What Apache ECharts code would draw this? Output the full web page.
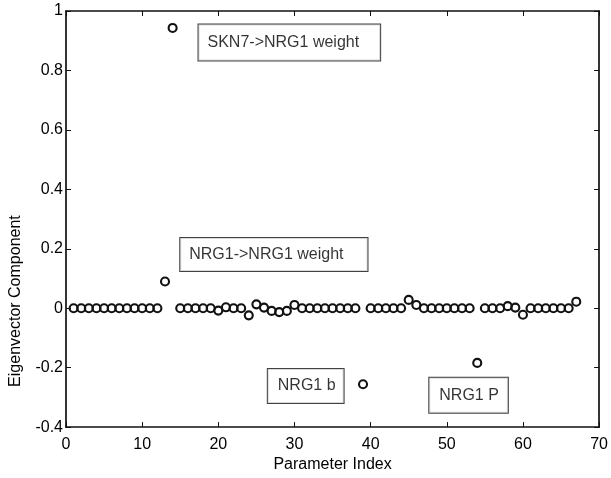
<!DOCTYPE html>
<html>
<head>
<meta charset="utf-8">
<script src="https://cdn.jsdelivr.net/npm/echarts@6/dist/echarts.min.js"></script>
<style>
html,body{margin:0;padding:0;background:#fff;}
#chart{width:611px;height:478px;}
</style>
</head>
<body>
<div id="chart"></div>
<script>
// Parameter indices 1..67
var paramIndex = [];
for (var i = 1; i <= 67; i++) paramIndex.push(i);

// Eigenvector components
var eigenValues = [
  0, 0, 0, 0, 0, 0, 0, 0, 0, 0,          // 1-10
  0, 0, 0.09, 0.943, 0, 0, 0, 0, 0, -0.008, // 11-20
  0.003, 0, 0, -0.024, 0.013, 0.002, -0.009, -0.013, -0.009, 0.011, // 21-30
  0, 0, 0, 0, 0, 0, 0, 0, -0.256, 0,       // 31-40
  0, 0, 0, 0, 0.028, 0.011, 0, 0, 0, 0,    // 41-50
  0, 0, 0, -0.184, 0, 0, 0, 0.007, 0.002, -0.022, // 51-60
  0, 0, 0, 0, 0, 0, 0.022                  // 61-67
];

var xTicks = [0, 10, 20, 30, 40, 50, 60, 70];
var yTicks = [-0.4, -0.2, 0, 0.2, 0.4, 0.6, 0.8, 1];

// Annotation text boxes (anchor = left edge / vertical centre, in data units)
var annotationLabels = ['SKN7->NRG1 weight', 'NRG1->NRG1 weight', 'NRG1 b', 'NRG1 P'];
var annotationX = [17.4, 15.0, 26.5, 47.7];
var annotationY = [0.894, 0.181, -0.262, -0.293];
var annotationPad = [[10, 21, 10, 9], [8.5, 24, 8.5, 9], [9, 8, 9, 10], [9.5, 9, 9.5, 10]];

var pts = paramIndex.map(function (x, k) { return [x, eigenValues[k]]; });
var ann = annotationLabels.map(function (t, k) {
  return {
    value: [annotationX[k], annotationY[k]],
    name: t,
    label: { padding: annotationPad[k] }
  };
});

var FONT = 'Liberation Sans, Arial, sans-serif';
var INK = '#000000';

var chart = echarts.init(document.getElementById('chart'), null, { renderer: 'canvas' });
var axisLine = { show: true, onZero: false, lineStyle: { color: '#111', width: 1.7 } };
chart.setOption({
  animation: false,
  backgroundColor: '#ffffff',
  grid: { left: 66, right: 9, top: 11, bottom: 45, containLabel: false },
  xAxis: [{
    type: 'value', min: xTicks[0], max: xTicks[xTicks.length - 1], interval: 10,
    name: 'Parameter Index', nameLocation: 'middle', nameGap: 28,
    nameTextStyle: { fontFamily: FONT, fontSize: 16, color: INK },
    axisLine: axisLine,
    axisTick: { show: true, inside: true, length: 5, lineStyle: { color: '#111', width: 1 } },
    axisLabel: { fontFamily: FONT, fontSize: 16, color: INK, margin: 9 },
    splitLine: { show: false }
  }, {
    type: 'value', position: 'top', min: 0, max: 70, interval: 10,
    axisLine: axisLine,
    axisTick: { show: true, inside: true, length: 5, lineStyle: { color: '#111', width: 1 } },
    axisLabel: { show: false }, splitLine: { show: false }
  }],
  yAxis: [{
    type: 'value', min: yTicks[0], max: yTicks[yTicks.length - 1], interval: 0.2,
    name: 'Eigenvector Component', nameLocation: 'middle', nameGap: 42,
    nameTextStyle: { fontFamily: FONT, fontSize: 16, color: INK, padding: [0, 164, 0, 0] },
    axisLine: axisLine,
    axisTick: { show: true, inside: true, length: 5, lineStyle: { color: '#111', width: 1 } },
    axisLabel: {
      fontFamily: FONT, fontSize: 16, color: INK, margin: 3,
      formatter: function (v) { return String(Math.round(v * 10) / 10); }
    },
    splitLine: { show: false }
  }, {
    type: 'value', position: 'right', min: -0.4, max: 1, interval: 0.2,
    axisLine: axisLine,
    axisTick: { show: true, inside: true, length: 5, lineStyle: { color: '#111', width: 1 } },
    axisLabel: { show: false }, splitLine: { show: false }
  }],
  series: [{
    type: 'scatter',
    data: pts,
    symbol: 'circle',
    symbolSize: 8,
    itemStyle: { color: 'rgba(255,255,255,0)', borderColor: '#111', borderWidth: 2.1, opacity: 1 },
    z: 3
  }, {
    type: 'scatter',
    data: ann,
    symbolSize: 0,
    silent: true,
    label: {
      show: true, position: 'right', distance: 0,
      formatter: function (p) { return p.name; },
      fontFamily: FONT, fontSize: 16, lineHeight: 16, color: INK,
      backgroundColor: '#ffffff', borderColor: '#111', borderWidth: 1
    },
    z: 4
  }]
});
</script>
</body>
</html>
